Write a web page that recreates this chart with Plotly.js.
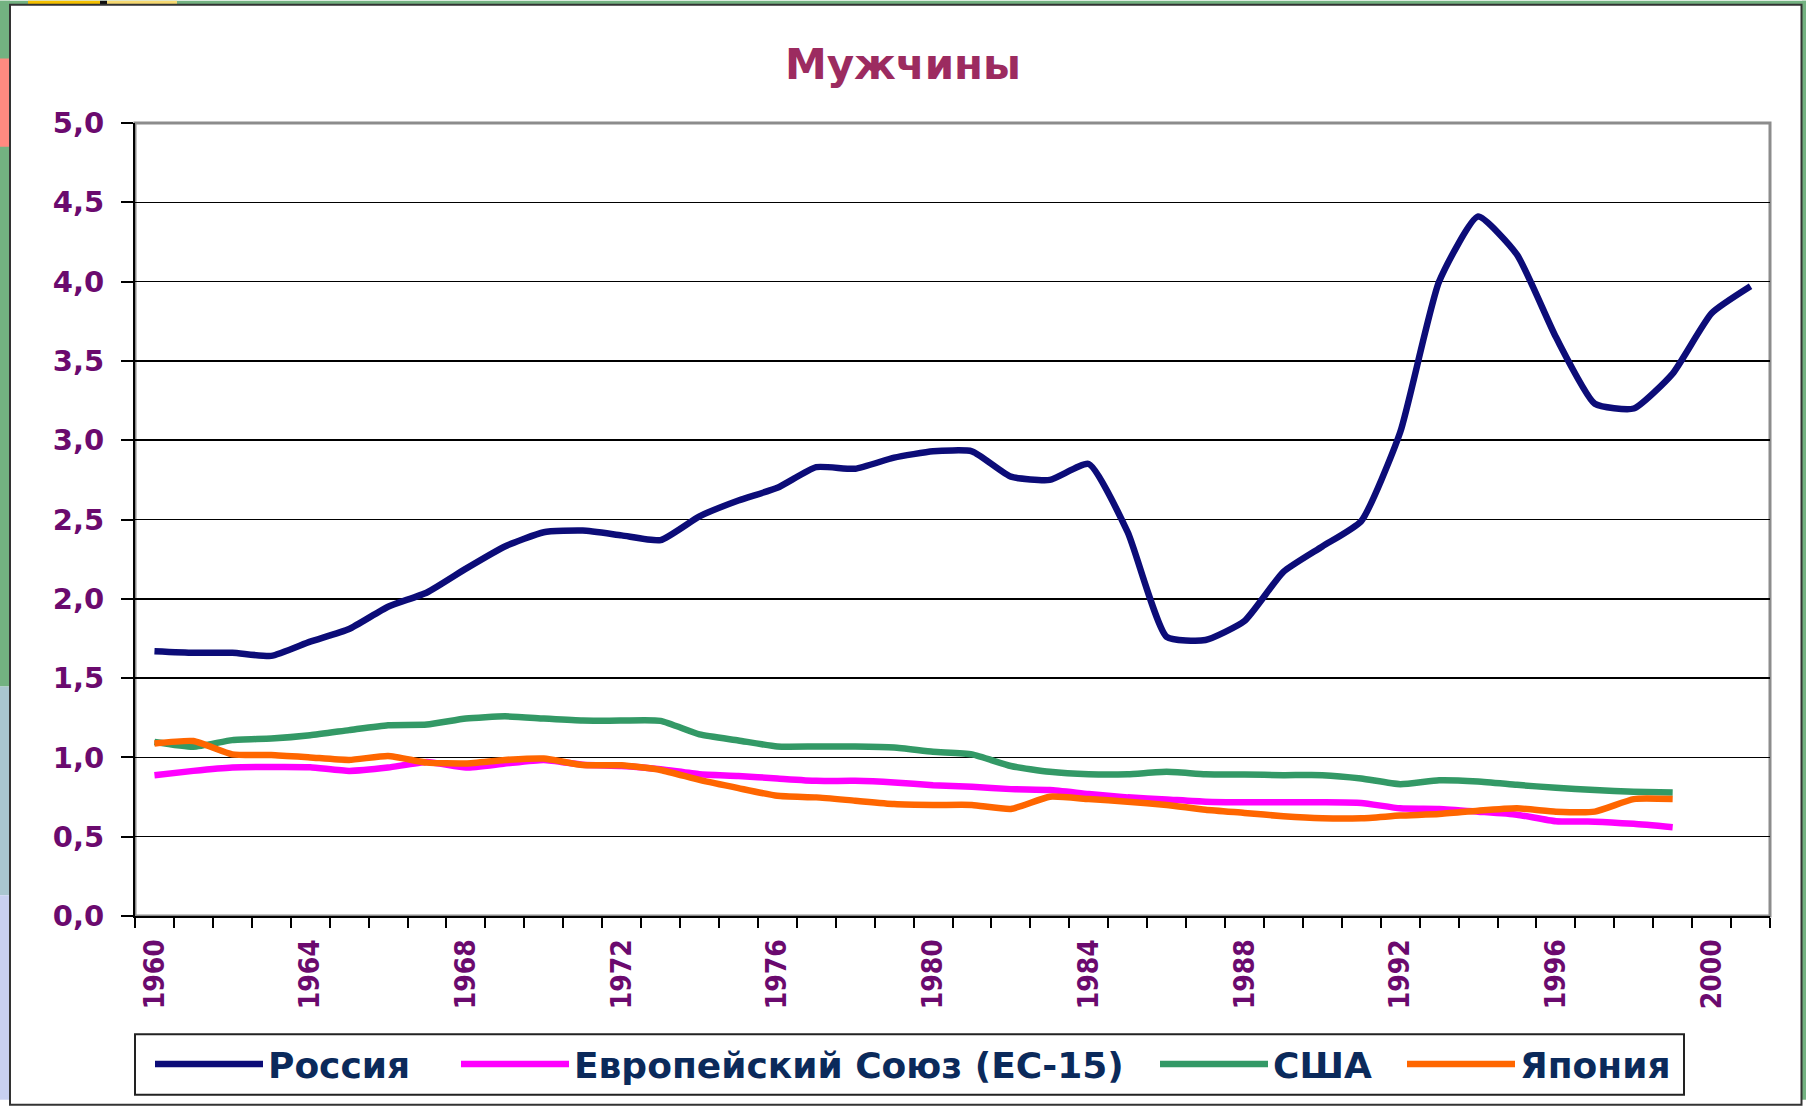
<!DOCTYPE html>
<html>
<head>
<meta charset="utf-8">
<script src="https://cdn.plot.ly/plotly-3.0.1.min.js"></script>
<style>
  html, body { margin: 0; padding: 0; background: #ffffff; }
  #chart { width: 1806px; height: 1106px; }
</style>
</head>
<body>
<div id="chart"></div>
<script>
// ---- Data ----
const chartTitle = "Мужчины";
const years = [1960,1961,1962,1963,1964,1965,1966,1967,1968,1969,
               1970,1971,1972,1973,1974,1975,1976,1977,1978,1979,
               1980,1981,1982,1983,1984,1985,1986,1987,1988,1989,
               1990,1991,1992,1993,1994,1995,1996,1997,1998,1999,
               2000,2001];
const seriesNames = ["Россия", "Европейский Союз (ЕС-15)", "США", "Япония"];
const russia = [1.67,1.66,1.66,1.64,1.73,1.81,1.95,2.04,2.19,2.33,
                2.42,2.43,2.40,2.37,2.52,2.62,2.70,2.83,2.82,2.89,
                2.93,2.93,2.77,2.75,2.85,2.42,1.76,1.74,1.86,2.17,
                2.33,2.49,3.05,4.00,4.41,4.17,3.65,3.23,3.20,3.42,
                3.80,3.97];
const eu15 = [0.888,0.915,0.936,0.940,0.938,0.915,0.936,0.971,0.936,0.961,
              0.984,0.954,0.946,0.925,0.894,0.883,0.867,0.852,0.852,0.842,
              0.825,0.815,0.800,0.794,0.769,0.748,0.735,0.721,0.717,0.717,
              0.717,0.713,0.679,0.675,0.658,0.639,0.597,0.595,0.581,0.560];
const usa = [1.097,1.067,1.109,1.119,1.140,1.172,1.203,1.207,1.245,1.259,
             1.245,1.232,1.232,1.230,1.145,1.107,1.069,1.069,1.069,1.063,
             1.036,1.019,0.946,0.909,0.894,0.894,0.909,0.894,0.892,0.888,
             0.888,0.867,0.831,0.856,0.848,0.827,0.808,0.794,0.784,0.779];
const japan = [1.088,1.103,1.019,1.015,1.000,0.984,1.009,0.967,0.962,0.984,
               0.993,0.952,0.950,0.921,0.858,0.806,0.758,0.748,0.727,0.706,
               0.700,0.700,0.675,0.752,0.737,0.721,0.700,0.670,0.650,0.629,
               0.616,0.616,0.633,0.643,0.664,0.679,0.658,0.658,0.737,0.737];
const xTickYears = [1960,1964,1968,1972,1976,1980,1984,1988,1992,1996,2000];
const xTickText = ["1960","1964","1968","1972","1976","1980","1984","1988","1992","1996","2000"];

// ---- Styles ----
const colors = ["#0c0c78", "#ff00ff", "#339966", "#ff6600"];
const allSeries = [russia, eu15, usa, japan];
const legendIds = ["legend", "legend2", "legend3", "legend4"];
const legendLineStartPx = [155, 461, 1160, 1407];

const W = 1806, H = 1106;
const M = {l: 135, r: 36, t: 123, b: 185};
const plotW = W - M.l - M.r, plotH = H - M.t - M.b;
function px2x(px) { return (px - M.l) / plotW; }
function py2y(py) { return (H - M.b - py) / plotH; }

const traces = allSeries.map((vals, i) => ({
  type: "scatter",
  mode: "lines",
  name: seriesNames[i],
  legend: legendIds[i],
  x: years.slice(0, vals.length),
  y: vals,
  line: {color: colors[i], width: 6.5, shape: "spline", smoothing: 0.5},
  hoverinfo: "x+y+name"
}));

const boldDejavu = "DejaVu Sans, Liberation Sans, sans-serif";

const shapes = [
  // slide background strips around the white chart panel
  {type: "rect", xref: "paper", yref: "paper", x0: px2x(0), x1: px2x(10), y0: py2y(0), y1: py2y(690),
   fillcolor: "#73b281", line: {width: 0}, layer: "below"},
  {type: "rect", xref: "paper", yref: "paper", x0: px2x(0), x1: px2x(10), y0: py2y(690), y1: py2y(900),
   fillcolor: "#a9c6cf", line: {width: 0}, layer: "below"},
  {type: "rect", xref: "paper", yref: "paper", x0: px2x(0), x1: px2x(10), y0: py2y(900), y1: py2y(H),
   fillcolor: "#c8d0f0", line: {width: 0}, layer: "below"},
  {type: "rect", xref: "paper", yref: "paper", x0: px2x(0), x1: px2x(9), y0: py2y(58), y1: py2y(147),
   fillcolor: "#ff8a80", line: {width: 0}, layer: "below"},
  {type: "rect", xref: "paper", yref: "paper", x0: px2x(0), x1: px2x(W), y0: py2y(0), y1: py2y(4),
   fillcolor: "#73b281", line: {width: 0}, layer: "below"},
  {type: "rect", xref: "paper", yref: "paper", x0: px2x(28), x1: px2x(100), y0: py2y(0), y1: py2y(3.5),
   fillcolor: "#f5c000", line: {width: 0}, layer: "below"},
  {type: "rect", xref: "paper", yref: "paper", x0: px2x(100), x1: px2x(107), y0: py2y(0), y1: py2y(3.5),
   fillcolor: "#111111", line: {width: 0}, layer: "below"},
  {type: "rect", xref: "paper", yref: "paper", x0: px2x(107), x1: px2x(177), y0: py2y(0), y1: py2y(3.5),
   fillcolor: "#f6d870", line: {width: 0}, layer: "below"},
  {type: "rect", xref: "paper", yref: "paper", x0: px2x(1802), x1: px2x(W), y0: py2y(0), y1: py2y(H),
   fillcolor: "#73b281", line: {width: 0}, layer: "below"},
  // white chart panel border
  {type: "rect", xref: "paper", yref: "paper", x0: px2x(10), x1: px2x(1801.5), y0: py2y(4), y1: py2y(H + 5),
   fillcolor: "rgba(0,0,0,0)", line: {color: "#333333", width: 2}, layer: "below"},
  // plot area border (grey top/right)
  {type: "rect", xref: "paper", yref: "paper", x0: 0, x1: 1, y0: 0, y1: 1,
   fillcolor: "rgba(0,0,0,0)", line: {color: "#8c8c8c", width: 3}, layer: "below"},
  // legend frame
  {type: "rect", xref: "paper", yref: "paper", x0: px2x(135), x1: px2x(1684), y0: py2y(1040), y1: py2y(1101),
   fillcolor: "#ffffff", line: {color: "#222222", width: 2}, layer: "below"}
];

const layout = {
  width: W, height: H,
  margin: M,
  paper_bgcolor: "#ffffff",
  plot_bgcolor: "#ffffff",
  separators: ", ",
  showlegend: true,
  title: {
    text: chartTitle,
    x: 0.5, xref: "container", xanchor: "center",
    y: 1 - 64 / H, yref: "container", yanchor: "middle",
    font: {family: boldDejavu, size: 42, color: "#9c2b60", weight: 700}
  },
  xaxis: {
    type: "linear",
    range: [years[0] - 0.5, years[years.length - 1] + 0.5],
    tickmode: "array",
    tickvals: xTickYears,
    ticktext: xTickText,
    tickangle: -90,
    ticks: "",
    ticklabelstandoff: 10,
    tickfont: {family: "DejaVu Sans Condensed, DejaVu Sans, sans-serif", size: 28, color: "#6b0a6e", weight: 700},
    showgrid: false,
    zeroline: false,
    showline: true, linecolor: "#000000", linewidth: 2,
    minor: {tickmode: "linear", tick0: years[0] - 0.5, dtick: 1, ticks: "outside", ticklen: 10,
            tickcolor: "#000000", tickwidth: 2, showgrid: false},
    fixedrange: true
  },
  yaxis: {
    range: [0, 5],
    dtick: 0.5, tick0: 0,
    tickformat: ".1f",
    ticks: "outside", ticklen: 12, tickcolor: "#000000", tickwidth: 2,
    ticklabelstandoff: 11,
    tickfont: {family: boldDejavu, size: 29, color: "#6b0a6e", weight: 700},
    showgrid: true, gridcolor: "#000000", gridwidth: 1.5,
    zeroline: false,
    showline: true, linecolor: "#000000", linewidth: 2,
    fixedrange: true
  },
  shapes: shapes
};

legendIds.forEach((id, i) => {
  layout[id] = {
    orientation: "h",
    x: px2x(legendLineStartPx[i] - 5), xanchor: "left",
    y: py2y(1070), yanchor: "middle",
    bgcolor: "rgba(0,0,0,0)",
    borderwidth: 0,
    itemwidth: 108,
    font: {family: boldDejavu, size: 36, color: "#0b2a5b", weight: 700}
  };
});

Plotly.newPlot("chart", traces, layout, {displayModeBar: false, staticPlot: true});
</script>
</body>
</html>
